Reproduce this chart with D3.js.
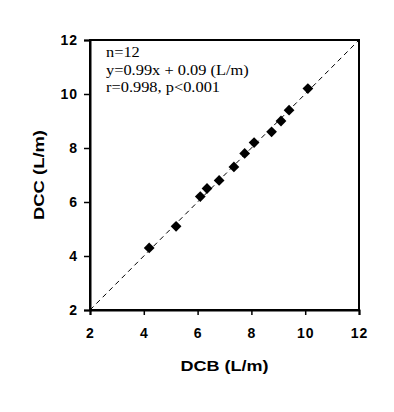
<!DOCTYPE html>
<html>
<head>
<meta charset="utf-8">
<script src="https://cdn.jsdelivr.net/npm/d3@7"></script>
<style>
  body { margin: 0; background: #fff; }
  svg { display: block; }
</style>
</head>
<body>
<script>
// DCB vs DCC measurements (L/m)
var dcb = [4.2, 5.2, 6.1, 6.35, 6.8, 7.35, 7.75, 8.1, 8.75, 9.1, 9.4, 10.1];
var dcc = [4.3, 5.1, 6.2, 6.5, 6.8, 7.3, 7.8, 8.2, 8.6, 9.0, 9.4, 10.2];
var ticks = [2, 4, 6, 8, 10, 12];
var identity = [2, 12];
var notes = ["n=12", "y=0.99x + 0.09 (L/m)", "r=0.998, p<0.001"];

var width = 394, height = 412;
var margin = {left: 90, top: 40, right: 35, bottom: 102};
var sans = "Liberation Sans, Arial, sans-serif";

var svg = d3.select("body").append("svg")
    .attr("width", width)
    .attr("height", height);

var x = d3.scaleLinear().domain([2, 12]).range([margin.left, width - margin.right]);
var y = d3.scaleLinear().domain([2, 12]).range([height - margin.bottom, margin.top]);

// dashed 1:1 line
svg.append("line")
    .attr("x1", x(identity[0])).attr("y1", y(identity[0]))
    .attr("x2", x(identity[1])).attr("y2", y(identity[1]))
    .attr("stroke", "#000")
    .attr("stroke-width", 1)
    .attr("stroke-dasharray", "5,4");

// plot frame
svg.append("rect")
    .attr("x", x(2)).attr("y", y(12))
    .attr("width", x(12) - x(2)).attr("height", y(2) - y(12))
    .attr("fill", "none")
    .attr("stroke", "#000")
    .attr("stroke-width", 2);

var xAxis = svg.append("g")
    .attr("transform", "translate(0," + y(2) + ")")
    .call(d3.axisBottom(x).tickValues(ticks).tickSize(5).tickPadding(13).tickFormat(d3.format("d")));
var yAxis = svg.append("g")
    .attr("transform", "translate(" + x(2) + ",0)")
    .call(d3.axisLeft(y).tickValues(ticks).tickSize(6).tickPadding(6).tickFormat(d3.format("d")));

[xAxis, yAxis].forEach(function(g) {
    g.select(".domain").attr("stroke-width", 2);
    g.selectAll(".tick line").attr("stroke-width", 1.5);
    g.selectAll("text")
        .style("font-family", sans)
        .style("font-size", "14px")
        .style("font-weight", "bold")
        .style("letter-spacing", "1px")
        .attr("fill", "#000");
});

// points: filled diamonds (rotated squares)
var marker = d3.symbol().type(d3.symbolSquare).size(58);
svg.append("g")
    .selectAll("path")
    .data(dcb)
    .enter().append("path")
    .attr("d", marker)
    .attr("transform", function(d, i) { return "translate(" + x(d) + "," + y(dcc[i]) + ")rotate(45)"; })
    .attr("fill", "#000");

// annotation
svg.append("g")
    .selectAll("text")
    .data(notes)
    .enter().append("text")
    .attr("x", 106)
    .attr("y", function(d, i) { return 57 + i * 17.7; })
    .style("font-family", "Liberation Serif, Times New Roman, serif")
    .style("font-size", "14px")
    .text(function(d) { return d; })
    .each(function() {
        var len = this.getComputedTextLength();
        d3.select(this).attr("textLength", len * 1.17).attr("lengthAdjust", "spacingAndGlyphs");
    });

// axis titles
svg.append("text")
    .attr("x", (x(2) + x(12)) / 2)
    .attr("y", 371)
    .attr("text-anchor", "middle")
    .attr("textLength", 88)
    .attr("lengthAdjust", "spacingAndGlyphs")
    .style("font-family", sans)
    .style("font-size", "14px")
    .style("font-weight", "bold")
    .text("DCB (L/m)");

svg.append("text")
    .attr("transform", "translate(44," + (y(2) + y(12)) / 2 + ")rotate(-90)")
    .attr("text-anchor", "middle")
    .attr("textLength", 90)
    .attr("lengthAdjust", "spacingAndGlyphs")
    .style("font-family", sans)
    .style("font-size", "14px")
    .style("font-weight", "bold")
    .text("DCC (L/m)");
</script>
</body>
</html>
